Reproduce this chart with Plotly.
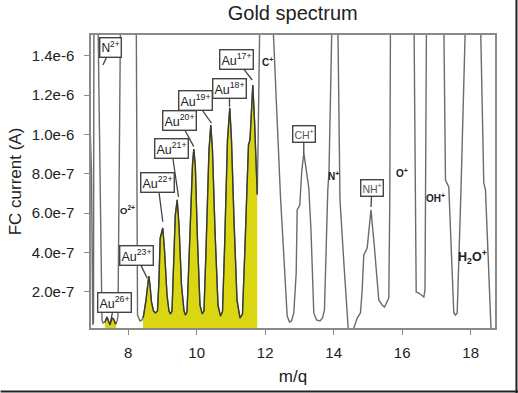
import numpy as np
import plotly.graph_objects as go

# ---- data (m/q, Faraday-cup current in A) ----
MZ = [6.870, 6.928, 6.966, 6.987, 6.999, 7.031, 7.118, 7.235, 7.264,
      7.323, 7.381, 7.425, 7.469, 7.527, 7.571, 7.629, 7.673,
      7.702, 7.775, 8.009, 8.236, 8.272, 8.345, 8.403, 8.447,
      8.520, 8.564, 8.601, 8.636, 8.680, 8.739, 8.797, 8.855,
      8.899, 8.934, 8.972, 9.010, 9.060, 9.133, 9.191, 9.235, 9.279,
      9.337, 9.375, 9.431, 9.483, 9.556, 9.629, 9.673, 9.717,
      9.775, 9.834, 9.877, 9.915, 9.959, 10.023, 10.096, 10.161, 10.213,
      10.272, 10.315, 10.359, 10.412, 10.461, 10.534, 10.622, 10.695, 10.753,
      10.812, 10.856, 10.899, 10.966, 11.016, 11.089, 11.177, 11.264, 11.337,
      11.396, 11.454, 11.512, 11.556, 11.594, 11.638, 11.688, 11.731, 11.769,
      11.790, 11.813, 12.009, 12.222, 12.447, 12.642, 12.709, 12.768,
      12.835, 12.905, 12.934, 13.010, 13.066, 13.127, 13.191, 13.273, 13.337,
      13.419, 13.498, 13.600, 13.673,
      13.731, 13.828, 13.863, 13.950, 14.038, 14.120, 14.184, 14.301, 14.423,
      14.505, 14.587,
      14.686, 14.782, 14.832, 14.879, 14.978, 15.089, 15.191, 15.317, 15.416,
      15.483, 15.609,
      15.638, 15.658, 16.009, 16.345, 16.409, 16.485, 16.631, 16.666,
      16.709, 16.972, 17.215, 17.264, 17.361, 17.507, 17.556, 17.606,
      17.717, 17.848, 18.053, 18.286, 18.382, 18.432, 18.593, 18.666, 18.783]

FC = [11.25e-7, 8.19e-7, 0.31e-7, 0.46e-7, 15.83e-7, 24.48e-7, 15.83e-7, 0.56e-7, 0.41e-7,
      0.46e-7, 0.71e-7, 0.51e-7, 0.31e-7, 0.66e-7, 0.61e-7, 0.36e-7, 0.51e-7,
      0.76e-7, 15.83e-7, 32.11e-7, 15.83e-7, 0.81e-7, 0.51e-7, 0.56e-7, 0.76e-7,
      1.58e-7, 2.34e-7, 2.80e-7, 2.34e-7, 1.48e-7, 1.02e-7, 0.92e-7, 1.02e-7,
      2.60e-7, 4.73e-7, 4.94e-7, 5.24e-7, 4.12e-7, 1.83e-7, 1.02e-7, 0.87e-7, 1.02e-7,
      3.61e-7, 5.90e-7, 6.67e-7, 5.39e-7, 2.34e-7, 1.02e-7, 0.81e-7, 0.97e-7,
      3.61e-7, 6.92e-7, 8.45e-7, 9.26e-7, 8.45e-7, 4.63e-7, 1.32e-7, 0.87e-7, 1.02e-7,
      4.12e-7, 7.18e-7, 9.21e-7, 10.48e-7, 9.21e-7, 5.14e-7, 1.32e-7, 0.76e-7, 0.97e-7,
      4.12e-7, 7.43e-7, 9.72e-7, 11.35e-7, 9.72e-7, 5.65e-7, 1.58e-7, 0.66e-7, 0.87e-7,
      3.61e-7, 7.18e-7, 9.47e-7, 9.72e-7, 11.25e-7, 12.52e-7, 10.74e-7, 8.45e-7, 6.92e-7,
      9.21e-7, 15.83e-7, 37.2e-7, 15.83e-7, 6.82e-7, 0.76e-7, 0.46e-7, 0.51e-7,
      0.92e-7, 2.95e-7, 6.16e-7, 6.41e-7, 8.09e-7, 9.06e-7, 8.19e-7, 7.28e-7, 5.14e-7,
      0.92e-7, 0.56e-7, 0.51e-7, 0.66e-7,
      1.07e-7, 7.18e-7, 8.09e-7, 15.83e-7, 34.66e-7, 15.83e-7, 6.67e-7, 3.36e-7, 0.15e-7,
      -0.56e-7, 0.15e-7,
      0.66e-7, 0.92e-7, 2.09e-7, 3.87e-7, 4.22e-7, 6.16e-7, 4.22e-7, 1.58e-7, 1.32e-7,
      1.22e-7, 1.68e-7,
      6.67e-7, 15.83e-7, 37.2e-7, 15.83e-7, 1.98e-7, 1.93e-7, 1.73e-7, 2.09e-7,
      15.83e-7, 37.2e-7, 15.83e-7, 7.68e-7, 7.33e-7, 0.92e-7, 0.81e-7, 0.92e-7,
      7.18e-7, 15.83e-7, 37.2e-7, 15.83e-7, 7.53e-7, 7.18e-7, 0.15e-7, -0.71e-7, -0.46e-7]

# m/q windows of the gold ions that are shaded
GOLD_WINDOWS = [(7.317, 7.650), (8.432, 11.768)]

X_TICKS = [8, 10, 12, 14, 16, 18]
Y_TICKS = [2e-7, 4e-7, 6e-7, 8e-7, 1.0e-6, 1.2e-6, 1.4e-6]
Y_TICK_TEXT = ["2.0e-7", "4.0e-7", "6.0e-7", "8.0e-7", "1.0e-6", "1.2e-6", "1.4e-6"]

# callout labels: text, m/q, current
CALLOUTS = [
    ("N<sup>2+</sup>", 7.264, 13.54e-7),
    ("Au<sup>17+</sup>", 11.620, 12.77e-7),
    ("Au<sup>18+</sup>", 10.958, 11.41e-7),
    ("Au<sup>19+</sup>", 10.432, 10.57e-7),
    ("Au<sup>20+</sup>", 9.915, 9.38e-7),
    ("Au<sup>21+</sup>", 9.469, 6.82e-7),
    ("Au<sup>22+</sup>", 9.010, 5.56e-7),
    ("Au<sup>23+</sup>", 8.555, 2.68e-7),
    ("Au<sup>26+</sup>", 7.483, 0.47e-7),
    ("CH<sup>+</sup>", 13.127, 9.04e-7),
    ("NH<sup>+</sup>", 15.089, 6.31e-7),
]
# plain labels: text, m/q, current
PLAIN_LABELS = [
    ("O<sup>2+</sup>", 7.965, 6.16e-7),
    ("C<sup>+</sup>", 12.058, 13.70e-7),
    ("N<sup>+</sup>", 14.003, 7.90e-7),
    ("O<sup>+</sup>", 16.000, 8.03e-7),
    ("OH<sup>+</sup>", 16.972, 6.75e-7),
    ("H<sub>2</sub>O<sup>+</sup>", 18.044, 3.78e-7),
]

# ---- styling (not data) ----
callout_style = {
    "N<sup>2+</sup>": dict(ax=8, ay=-17, size=12),
    "Au<sup>17+</sup>": dict(ax=-16, ay=-21, size=12.5),
    "Au<sup>18+</sup>": dict(ax=0, ay=-18, size=12.5),
    "Au<sup>19+</sup>": dict(ax=-16, ay=-23, size=12.5),
    "Au<sup>20+</sup>": dict(ax=-14, ay=-26, size=12.5),
    "Au<sup>21+</sup>": dict(ax=-7, ay=-48, size=12.5),
    "Au<sup>22+</sup>": dict(ax=-5, ay=-39, size=12.5),
    "Au<sup>23+</sup>": dict(ax=-11, ay=-23, size=12.5),
    "Au<sup>26+</sup>": dict(ax=4, ay=-19, size=12.5),
    "CH<sup>+</sup>": dict(ax=0, ay=-19, size=10.5),
    "NH<sup>+</sup>": dict(ax=1, ay=-19, size=10.5),
}
plain_size = {"H<sub>2</sub>O<sup>+</sup>": 12.5, "O<sup>2+</sup>": 9.5}

W, H = 518, 393
PL, PR, PT, PB = 90.5, 495, 35, 328   # plot box in figure px
pw, ph = PR - PL, PB - PT

mz = np.array(MZ)
fc = np.array(FC)

fig = go.Figure()

for a, b in GOLD_WINDOWS:
    inside = (mz > a) & (mz < b)
    xs = np.concatenate([[a], mz[inside], [b]])
    ys = np.interp(xs, mz, fc)
    fig.add_trace(go.Scatter(
        x=xs, y=ys, mode="lines", fill="tozeroy",
        fillcolor="rgb(218,214,18)",
        line=dict(color="rgba(0,0,0,0)", width=0),
        hoverinfo="skip", showlegend=False))

fig.add_trace(go.Scatter(
    x=mz, y=fc, mode="lines",
    line=dict(color="#6b6b6b", width=1.4),
    showlegend=False))

for a, b in GOLD_WINDOWS:
    inside = (mz > a) & (mz < b)
    xs = np.concatenate([[a], mz[inside], [b]])
    ys = np.interp(xs, mz, fc)
    fig.add_trace(go.Scatter(
        x=xs, y=ys, mode="lines",
        line=dict(color="#3a3a28", width=1.3),
        hoverinfo="skip", showlegend=False))

annotations = []
for text, x, y in CALLOUTS:
    st = callout_style[text]
    small = st["size"] < 11
    annotations.append(dict(
        x=x, y=y, xref="x", yref="y", text=text,
        showarrow=True, arrowhead=0, arrowwidth=1.3, arrowcolor="#444",
        ax=st["ax"], ay=st["ay"], standoff=0,
        bgcolor="white", bordercolor="#444", borderwidth=1.4, borderpad=1,
        font=dict(family="Liberation Sans, Arial", size=st["size"],
                  color="#555" if small else "#222"),
    ))
for text, x, y in PLAIN_LABELS:
    annotations.append(dict(
        x=x, y=y, xref="x", yref="y", text="<b>" + text + "</b>",
        showarrow=False,
        font=dict(family="Liberation Sans, Arial", size=plain_size.get(text, 10),
                  color="#222"),
    ))

bottom_px, right_px = 391.5, 516.5
fig.update_layout(
    width=W, height=H,
    margin=dict(l=PL, r=W - PR, t=PT, b=H - PB),
    paper_bgcolor="white", plot_bgcolor="white",
    font=dict(family="Liberation Sans, Arial", color="#222"),
    title=dict(text="Gold spectrum", x=(PL + PR) / 2 / W, xanchor="center",
               y=1 - 13 / H, yanchor="middle", yref="container",
               font=dict(size=20, color="#222")),
    showlegend=False,
    annotations=annotations,
    shapes=[
        dict(type="line", xref="paper", yref="paper",
             x0=-PL / pw, x1=(W - PL) / pw,
             y0=(PB - bottom_px) / ph, y1=(PB - bottom_px) / ph,
             line=dict(color="#222", width=2)),
        dict(type="line", xref="paper", yref="paper",
             x0=(right_px - PL) / pw, x1=(right_px - PL) / pw,
             y0=(PB - H) / ph, y1=PB / ph,
             line=dict(color="#222", width=2)),
    ],
)

fig.update_xaxes(
    range=[6.914, 18.71], tickvals=X_TICKS, ticktext=[str(v) for v in X_TICKS],
    showgrid=False, zeroline=False,
    showline=True, mirror=True, linecolor="#8a8a8a", linewidth=1.5,
    ticks="outside", ticklen=5, tickwidth=1.3, tickcolor="#8a8a8a",
    tickfont=dict(size=15, color="#222"), ticklabelstandoff=5,
    title=dict(text="m/q", font=dict(size=17, color="#222"), standoff=10),
    automargin=False,
)
fig.update_yaxes(
    range=[1.53e-8, 1.506e-6], tickvals=Y_TICKS, ticktext=Y_TICK_TEXT,
    showgrid=False, zeroline=False,
    showline=True, mirror=True, linecolor="#8a8a8a", linewidth=1.5,
    ticks="outside", ticklen=5, tickwidth=1.3, tickcolor="#8a8a8a",
    tickfont=dict(size=15, color="#222"), ticklabelstandoff=7,
    title=dict(text="FC current (A)", font=dict(size=17, color="#222"), standoff=6),
    automargin=False,
)

# remove the browser's default 8px body margin so the figure fills the window
fig.write_html("out.html", config={"displayModeBar": False},
               post_script="document.body.style.margin='0px';")
